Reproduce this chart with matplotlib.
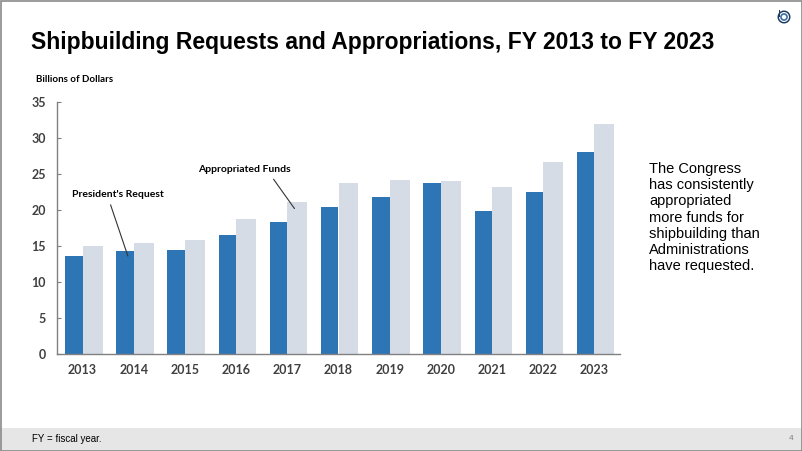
import matplotlib
matplotlib.use("Agg")
import matplotlib.pyplot as plt
from matplotlib.patches import Rectangle, Ellipse
import numpy as np

years = ["2013", "2014", "2015", "2016", "2017", "2018", "2019", "2020", "2021", "2022", "2023"]
request = [13.6, 14.3, 14.4, 16.5, 18.3, 20.4, 21.8, 23.8, 19.8, 22.5, 28.0]
appropriated = [15.0, 15.4, 15.9, 18.7, 21.1, 23.8, 24.2, 24.0, 23.2, 26.6, 32.0]
yticks = [0, 5, 10, 15, 20, 25, 30, 35]

W, H = 802, 451
fig = plt.figure(figsize=(W / 100, H / 100), dpi=100)

def fx(px):
    return px / W

def fy(py):
    return 1 - py / H

# footer band and border
fig.patches.append(Rectangle((0, 0), 1, fy(428), transform=fig.transFigure,
                             facecolor="#e6e6e6", edgecolor="none", zorder=-1))
fig.patches.append(Rectangle((fx(0.5), fy(450.5)), fx(801), 450 / H, transform=fig.transFigure,
                             facecolor="none", edgecolor="#8a8a8a", linewidth=1.2, zorder=5))

ax = fig.add_axes([fx(57), fy(354), fx(620 - 57), (354 - 102) / H])
x = np.arange(len(years))
blue = "#2e75b6"
light = "#d6dce5"
ax.bar(x - 0.342, request, width=0.342, align="edge", color=blue, zorder=2)
ax.bar(x, appropriated, width=0.39, align="edge", color=light, zorder=2)

ax.set_xlim(-0.5, len(years) - 0.5)
ax.set_ylim(0, 35)
ax.set_yticks(yticks)
ax.set_xticks(x)
ax.set_xticklabels(years)
for s in ["top", "right"]:
    ax.spines[s].set_visible(False)
for s in ["left", "bottom"]:
    ax.spines[s].set_color("#808080")
    ax.spines[s].set_linewidth(1.0)
ax.tick_params(axis="y", direction="in", length=3, color="#808080", pad=8)
ax.tick_params(axis="x", length=0, pad=7)
for lab in ax.get_xticklabels() + ax.get_yticklabels():
    lab.set_fontfamily("Lato")
    lab.set_fontweight("bold")
    lab.set_fontsize(9)
    lab.set_color("#404040")

ax.annotate("President's Request", xy=(0.885, 13.6), xytext=(0.69, 22.1),
            ha="center", va="center", fontsize=7.5, fontweight="bold", family="Lato",
            color="black",
            arrowprops=dict(arrowstyle="-", color="#333333", lw=0.8, relpos=(0.4, 0), shrinkA=2, shrinkB=0))
ax.annotate("Appropriated Funds", xy=(4.14, 20.2), xytext=(3.154, 25.6),
            ha="center", va="center", fontsize=7.5, fontweight="bold", family="Lato",
            color="black",
            arrowprops=dict(arrowstyle="-", color="#333333", lw=0.8, relpos=(0.78, 0), shrinkA=2, shrinkB=0))

fig.text(fx(31), fy(42), "Shipbuilding Requests and Appropriations, FY 2013 to FY 2023",
         family="Liberation Sans", fontweight="bold", fontsize=16.5, va="center", ha="left")
fig.text(fx(36), fy(80), "Billions of Dollars", family="Lato", fontweight="bold",
         fontsize=7, va="center", ha="left")
fig.text(fx(649), fy(162),
         "The Congress\nhas consistently\nappropriated\nmore funds for\nshipbuilding than\nAdministrations\nhave requested.",
         family="Liberation Sans", fontsize=10.5, va="top", ha="left", linespacing=1.2)
fig.text(fx(32), fy(439), "FY = fiscal year.", family="Liberation Sans", fontsize=7,
         va="center", ha="left")
fig.text(fx(791), fy(439), "4", family="Liberation Sans", fontsize=6, color="#7f7f7f",
         va="center", ha="center")

# logo
lx, ly = fx(784), fy(17)
for r, c in [(6.5, "#1f3a5f"), (5.0, "white"), (3.9, "#3a6ea5"), (2.2, "white")]:
    fig.patches.append(Ellipse((lx, ly), 2 * r / W, 2 * r / H, transform=fig.transFigure,
                               facecolor=c, edgecolor="none", zorder=6))
fig.patches.append(Rectangle((fx(778.5), fy(17)), 1.6 / W, 7 / H, transform=fig.transFigure,
                             facecolor="#1f3a5f", edgecolor="none", zorder=7))
fig.savefig("out.png", dpi=100)
